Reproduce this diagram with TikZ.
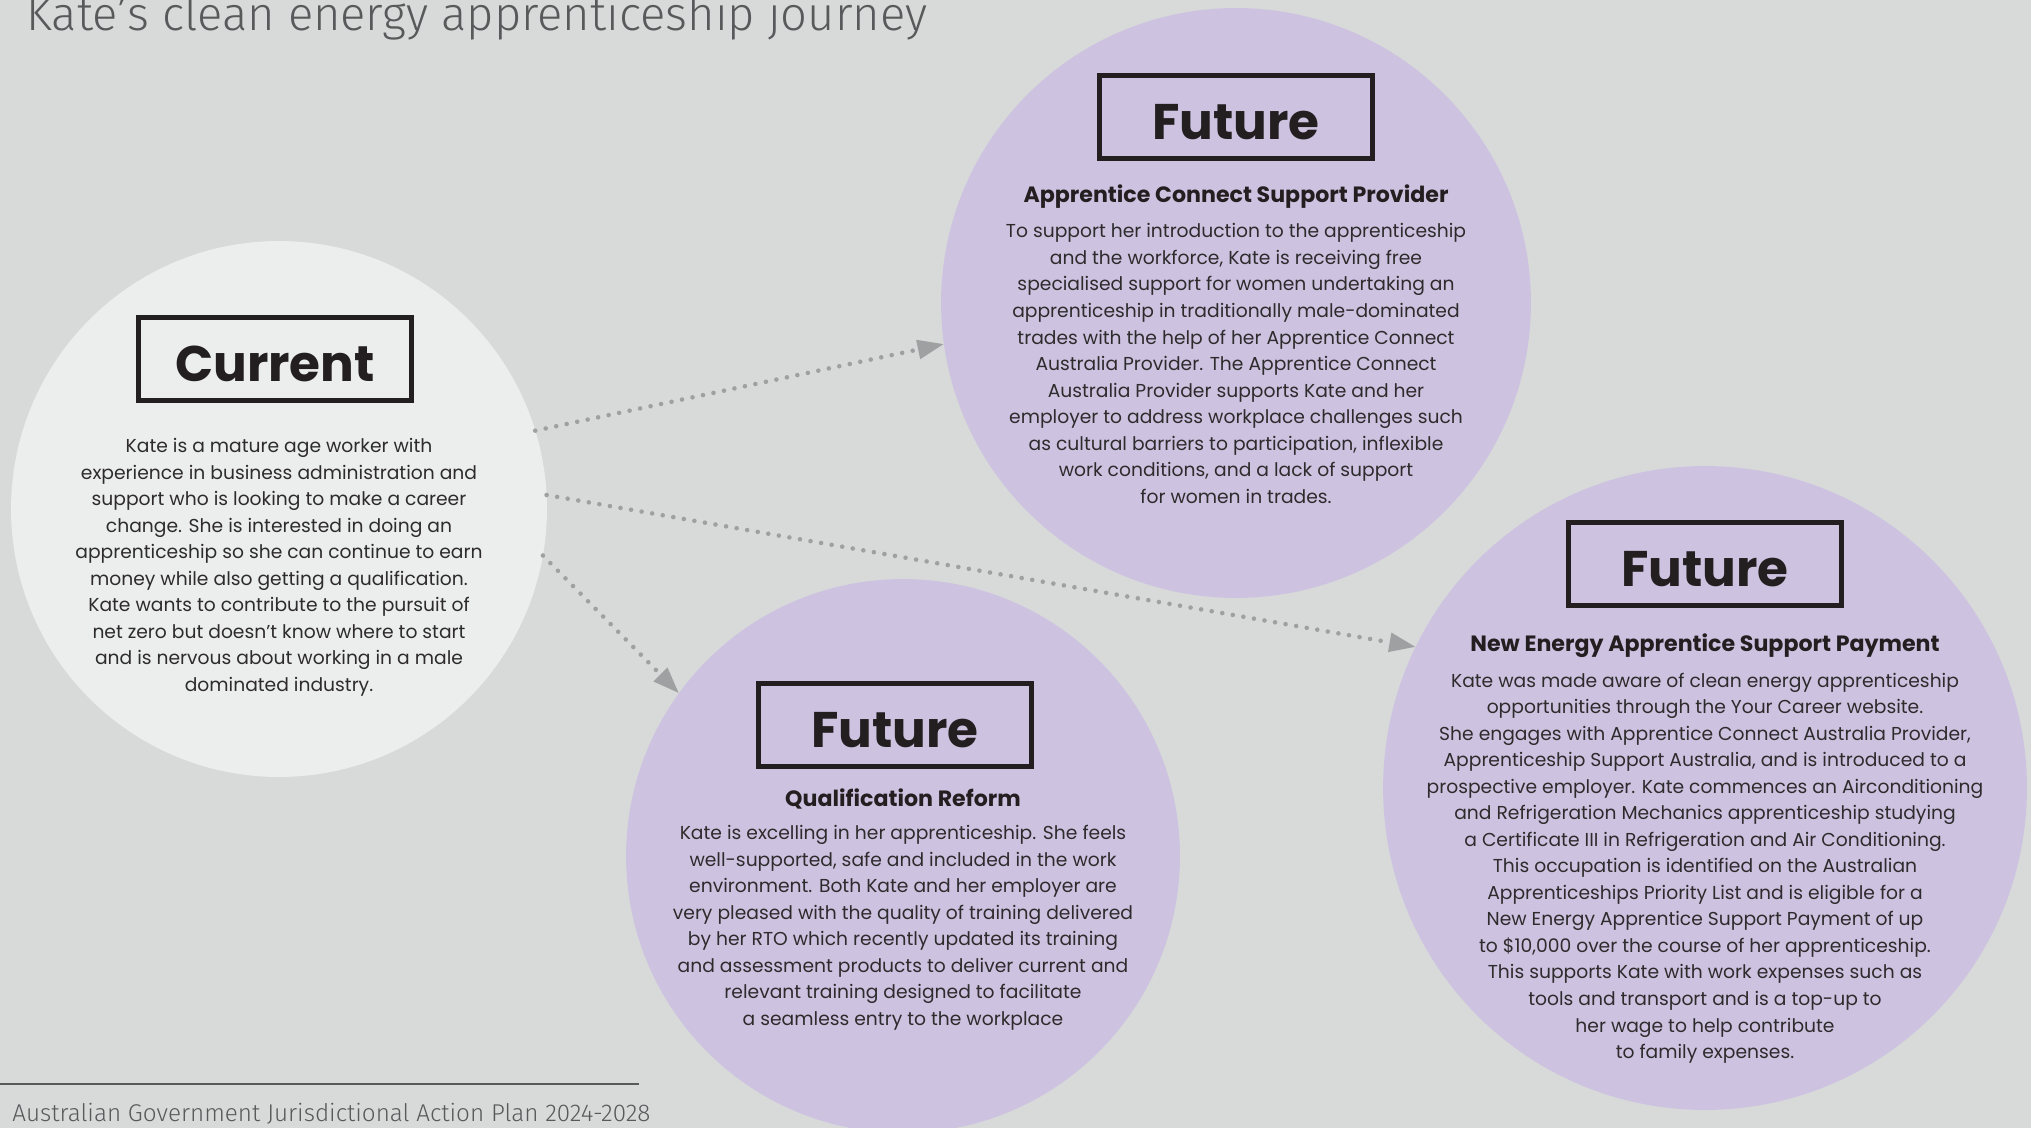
\documentclass[tikz,border=0pt]{standalone}
\usepackage{fontspec}
\setmainfont{Poppins}
\newfontfamily\thinfont{Fira Sans Light}
\usepackage{tikz}
\usetikzlibrary{arrows.meta, positioning}
\definecolor{paper}{HTML}{D8DAD9}
\definecolor{nowfill}{HTML}{ECEEED}
\definecolor{lilac}{HTML}{CDC3E1}
\definecolor{ink}{HTML}{231F20}
\definecolor{prose}{HTML}{2E2B2C}
\definecolor{dotgray}{HTML}{9FA0A2}
\definecolor{captiongray}{HTML}{58595B}
\tikzset{
	stage/.style={circle, inner sep=0pt, outer sep=0pt},
	tag/.style={rectangle, draw=ink, line width=2.8pt, minimum width=5.46cm, minimum height=1.66cm, inner sep=0pt, text height=0.9cm, text depth=0pt, font=\fontsize{28.5}{32}\selectfont\bfseries, text=ink},
	heading/.style={inner sep=0pt, font=\fontsize{12.6}{15}\selectfont\bfseries, text=ink},
	story/.style={inner sep=0pt, align=center, font=\fontsize{10.65}{15.1}\selectfont, text=prose},
	flow/.style={draw=dotgray, line width=2.6pt, line cap=round, dash pattern=on 0pt off 6.1pt, -{Triangle[length=15pt, width=10.5pt, fill=dotgray]}}
}

\begin{document}
\begin{tikzpicture}[x=0.02cm, y=-0.02cm]
	
	% Page
	\fill[paper] (0,0) rectangle (2031,1128);
	\useasboundingbox (0,0) rectangle (2031,1128);
	
	% Title and footer
	\node[anchor=base west, inner sep=0pt, font=\thinfont\fontsize{26.8}{30}\selectfont, text=captiongray] (title) at (26,31) {Kate’s clean energy apprenticeship journey};
	\coordinate (rule_a) at (0,1084);
	\coordinate (rule_b) at (639,1084);
	\draw[captiongray, line width=0.8pt] (rule_a) -- (rule_b);
	\node[anchor=base west, inner sep=0pt, font=\thinfont\fontsize{13.8}{16}\selectfont, text=captiongray] (footer) at (12,1121) {Australian Government Jurisdictional Action Plan 2024-2028};
	
	% Circles
	\node[stage, fill=nowfill, minimum size=10.72cm] (now) at (279,509) {};
	\node[stage, fill=lilac, minimum size=11.8cm] (acsp) at (1236,303) {};
	\node[stage, fill=lilac, minimum size=11.08cm] (reform) at (903,856) {};
	\node[stage, fill=lilac, minimum size=12.88cm] (neasp) at (1705,788) {};
	
	% Current
	\node[tag] (now_tag) at ([yshift=3cm, xshift=-0.08cm]now.center) {Current};
	\node[story, below=0.7cm of now_tag.south -| now.center] (now_text) {Kate is a mature age worker with\\
		experience in business administration and\\
		support who is looking to make a career\\
		change. She is interested in doing an\\
		apprenticeship so she can continue to earn\\
		money while also getting a qualification.\\
		Kate wants to contribute to the pursuit of\\
		net zero but doesn’t know where to start\\
		and is nervous about working in a male\\
		dominated industry.};
	
	% Future - Apprentice Connect
	\node[tag] (acsp_tag) at ([yshift=3.72cm]acsp.center) {Future};
	\node[heading, below=0.46cm of acsp_tag] (acsp_head) {Apprentice Connect Support Provider};
	\node[story, below=0.3cm of acsp_head] (acsp_text) {To support her introduction to the apprenticeship\\
		and the workforce, Kate is receiving free\\
		specialised support for women undertaking an\\
		apprenticeship in traditionally male-dominated\\
		trades with the help of her Apprentice Connect\\
		Australia Provider. The Apprentice Connect\\
		Australia Provider supports Kate and her\\
		employer to address workplace challenges such\\
		as cultural barriers to participation, inflexible\\
		work conditions, and a lack of support\\
		for women in trades.};
	
	% Future - Qualification Reform
	\node[tag] (reform_tag) at ([yshift=2.62cm, xshift=-0.16cm]reform.center) {Future};
	\node[heading, below=0.38cm of reform_tag.south -| reform.center] (reform_head) {Qualification Reform};
	\node[story, below=0.32cm of reform_head] (reform_text) {Kate is excelling in her apprenticeship. She feels\\
		well-supported, safe and included in the work\\
		environment. Both Kate and her employer are\\
		very pleased with the quality of training delivered\\
		by her RTO which recently updated its training\\
		and assessment products to deliver current and\\
		relevant training designed to facilitate\\
		a seamless entry to the workplace};
	
	% Future - New Energy payment
	\node[tag] (neasp_tag) at ([yshift=4.48cm]neasp.center) {Future};
	\node[heading, below=0.5cm of neasp_tag] (neasp_head) {New Energy Apprentice Support Payment};
	\node[story, below=0.3cm of neasp_head] (neasp_text) {Kate was made aware of clean energy apprenticeship\\
		opportunities through the Your Career website.\\
		She engages with Apprentice Connect Australia Provider,\\
		Apprenticeship Support Australia, and is introduced to a\\
		prospective employer. Kate commences an Airconditioning\\
		and Refrigeration Mechanics apprenticeship studying\\
		a Certificate III in Refrigeration and Air Conditioning.\\
		This occupation is identified on the Australian\\
		Apprenticeships Priority List and is eligible for a\\
		New Energy Apprentice Support Payment of up\\
		to \$10,000 over the course of her apprenticeship.\\
		This supports Kate with work expenses such as\\
		tools and transport and is a top-up to\\
		her wage to help contribute\\
		to family expenses.};
	
	% Dotted arrows
	\draw[flow] (now.17) -- (acsp.188);
	\draw[flow] (now.3) -- (neasp.154);
	\draw[flow] (now.-10) -- (reform.144);
	
\end{tikzpicture}
\end{document}
